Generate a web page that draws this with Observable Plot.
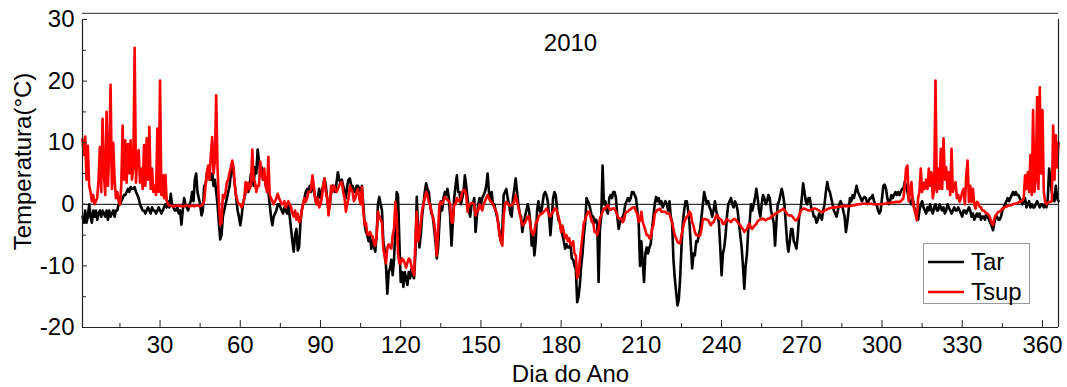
<!DOCTYPE html>
<html><head><meta charset="utf-8">
<script src="https://cdn.jsdelivr.net/npm/d3@7"></script>
<script src="https://cdn.jsdelivr.net/npm/@observablehq/plot@0.6"></script>
<style>
html,body{margin:0;padding:0;background:#fff;}
#chart{width:1067px;height:387px;}
</style></head><body><div id="chart"></div>
<script>
// Sampling: two readings per day, starting at day 1
const firstDay = 1;
const samplesPerDay = 2;

// Tar (air temperature), day 1 .. 366
const tar = [
-2,-3, -1,-3, -2,0, -2,-3, -1,-2, -1,-2.5, -1.5,-1, -2,-1, -1.5,-2, -1,-2.5,
-1,-2, -1.5,-1, -2,-1, -1,0, 0,0.5, 1,1.5, 1.5,2, 2.5,2, 2.8,2.5, 2.5,2.8,
2,1.5, 1,0, -0.5,-1, -1,-1.5, -1,-0.5, -1,-1.5, -0.5,-1, -1,-1.5, -1,-0.5, -1,-1.5,
-1,-0.5, 0,-0.5, 0.5,-0.5, 1.7,0, -0.5,-1, -1,-0.5, -1.5,-1, -3.3,-1, 1,0, -0.5,-1,
0,0.5, 2,0.5, 4,5, 2,1, 0,-1.8, -1,3, 3,5, 6,4, 4,5, 3,4,
2,0, -3,-5.7, -5,-2, -1,0, 1,2, 3,5, 6,5, 3,1, -1,-2, -3.4,-2,
0,1, 2,3, 2,3, 5,4, 3,6, 5,8.9, 7,5, 6,4, 5,3, 3,2,
0,-2, -3.4,-2, -1.5,-1, 0,0, -0.5,-1, -1.5,-0.5, -1,-1.5, 0,-2, -4,-6, -7.7,-5,
-4,-7.5, -7,-3, -1,0, 1,2, 2.5,2, 3,2, 3,2.5, 1,0, 1,2.5, 1,2,
3,4.2, 3,1, -1,0, 2,3, 3,2, 3.5,5.2, 4,3.5, 4,3, 2,1, 3,4,
4.2,3, 3,2, 2,3, 3,2.5, 2,3, 0,-3, -4.5,-5, -6,-5, -7.2,-6, -7,-7.7,
-5,0, 1.2,0, -1,-6, -7.5,-10, -14.5,-11, -10.4,-9, -11.5,-9, -4,2, 1.5,-6, -12.6,-11,
-13.4,-11, -12,-13.1, -11,-12, -10.5,-11.5, -12,-8, 1.2,-4, -7,-5, -2,0, 2,3.4, 2.5,2,
0,-1.5, -2,-4, -6,-8.8, -7,-3, 0.5,-1, 1,2, 1.5,2.5, 1,-2, -6.7,-3, 1,3,
4.7,2, 2,0, 1,2, 4.7,3, 1,-1, -2,0, 0,1, -4.5,-2, 0,1, 0,1,
1.5,2, 3,5, 2,1, 2,0, 0,-1, -2,-3, -5,-6, -4,1.5, 2,2.5, 1,0,
-1.5,-2, 1,2.5, 4.2,2, 0,-1.5, -2,-4.5, -3,-2, -1,0, -1,-3, -6.7,-5, -8.3,-6,
-1,0.5, -1,-1.5, 0,1.5, 2,1.5, 0.5,-2, -5,-2, 1,2, 1.5,-1, -2.5,-3, -4,-5,
-6,-7.2, -6.5,-7, -7,-6.5, -8.8,-9, -10,-10.5, -15.9,-15, -13,-10, -8,-5, -3,1, 0.5,0,
-1,-2, -2,-3, -2.5,-3, -12.6,-4, -2,6.3, 0,0.5, -1,-1.5, 1,1.5, 1,2, 2,1,
-2,-4, -3,-2.5, -2,-1.5, 0,0.5, 1,0.5, 1,2, 2,1.5, 1,-1, -3,-10, -6,-9.4,
-12.6,-8, -7,-8, -7,-6.5, -4,-2, 0,1.2, 0.5,1, 0,0.5, -0.5,0, 0.5,0, -1,0.5,
-2,-3, -9,-12, -14.2,-16.4, -15.5,-12, -7,-3, -1,0.5, 0.5,-1, -3,-6.7, -10.4,-8, -8.3,-6,
-6.1,-5, -4,-2, 0,2, 1,0, 0.5,-0.5, -1,-2, -1,0.5, -1,-2, -3,-7, -11.5,-8,
-7,-5, -2,0, 0.5,1, 0,-0.5, 0.5,0, -1,-3, -5,-7, -10,-13.7, -10,-8, -4,-3,
0,-1, 0,1, 2.5,1, -1,-2, 0,1.5, 1,0, 0.5,1.5, 1,-1, -2,-3, -6.7,-3,
0,0.5, 1.5,2.5, 1.5,0, -3,-6.1, -7.7,-6, -4,-4, -6,-6.5, -7.2,-5, -2,-1, 1,3.4,
2,0.5, 0,1, 1,-0.5, -1,-2, -2,-3, -2.5,-1.5, -2,-2.5, -1,0, 2,3.6, 2.5,2,
1,0, -1,-1.5, -2,-1, 0,0.5, 0,-1, -2,-4.5, -3,-1, 1,0.5, 1.5,1, 2,3,
2,1.5, 1,0.5, 1,1.2, 1,0, 0.5,1, 1,1.5, 0.5,0, 0,-1, -1.5,-1, 1,3,
3.2,2.5, 1,0, 0.5,1.5, 1,1.5, 2,1.5, 2,1.5, 2,2.5, 2.5,3.6, 3,2, 1,0.5,
0,1, -0.5,-1, -2,-2.5, -1,0, 0.5,-0.5, -1,-1.5, -0.5,-1, 0,-1, -1.5,-0.5, 0,-1,
-1,0, -0.5,-1, -0.5,-1.5, -1,0, -0.5,-1, -1.5,-1, -0.5,-1, -1,-0.5, -1,-1.5, -2,-1,
-1,-1.5, -1,-0.5, -1,-2, -1.5,-2.5, -2,-1.5, -2,-1.5, -2.5,-2, -2,-2.5, -1.5,-2, -2.5,-3,
-3.5,-4.2, -3,-2, -2,-2.5, -2.5,-2, -1,-0.5, 0,0.5, 1,0.5, 1,1.5, 2,1.5, 2,1.5,
1.5,1, 0.5,0, 0.5,1, -0.5,0, 0.5,-0.5, 0,-0.5, -0.5,0, 0.5,0, -0.5,0, 0,-0.5,
0,-0.5, 1,5.8, 4,2, 1,0.5, 3,1, 0.5
];

// Tsup (surface temperature), day 1 .. 366
const tsup = [
10.5,8, 11,4, 9.5,3, 2,0.5, 1.5,0, 0.5,1, 4,9.3, 2,13.9, 5,1.5, 15,3,
8,19.4, 2.5,10, 4,1, 2,0.5, 0,3, 12.8,4, 10.4,3.5, 9.8,5, 10.4,4, 6,25.4,
3.5,8, 8.8,3.5, 5.8,2.5, 9.6,3, 10.7,4, 12.6,2.5, 5.8,2, 3,1.5, 12.3,2, 20.1,1.5,
4.7,1, 4.8,0.5, 0,-0.2, -0.2,-0.3, -0.3,-0.3, -0.3,-0.2, -0.2,-0.3, -0.3,-0.3, -0.3,-0.2, -0.2,-0.3,
-0.3,-0.3, -0.2,-0.3, -0.3,-0.2, -0.2,-0.3, -0.3,-0.2, 0,0.5, 3,5, 6.3,4, 8,10.9, 5,7,
17.7,6, 0.4,-3.4, -2.9,1.5, 1,2, 3.6,4, 5.2,6, 7.1,6, 3,1.2, 0.5,0, 0,-0.5,
0,1, 3.6,2, 3.5,2.5, 3,8.9, 4,3.6, 2,3, 3,6.9, 4.7,4, 5.8,3, 2,7.7,
1.5,1, 0.5,0, 0.5,1, 1.7,1, 0.5,0, 0,0.5, -0.5,0, 0.5,0, -0.5,-1.5, -2,-1,
-2.5,-1.5, -2.9,-2.5, -1,0, 1,0.4, 1,2, 2,2.5, 4.7,3, 1,0, 1,-0.5, 0,1,
3,4.2, 2,1, -1.8,0, 3,2, 3,2.5, 2,2.5, 3,3.5, 3.6,2, 1,-1.2, 0,1,
3,2.5, 2,0.5, 1,2, 2.5,1, 0,2.8, -1,-3.4, -3,-4.8, -5,-4.5, -5,-5.2, -6.3,-6.7,
-5,-1.2, -2,-2.5, -3,-7.2, -8.5,-9.6, -7,-6.5, -7,-7.2, -5,-4, 0.4,-2, -8,-9.6, -9.6,-8.8,
-9,-9.5, -10.3,-9.5, -8.8,-9, -10,-11, -11.5,-6, -1.2,-6, -5,-3, -1,0, 1,2, 1.5,0.4,
0,-1.2, -2,-3, -5,-8.3, -4,0, 0.4,0, 0.5,1.2, 1,0.7, 0.5,0, -2.9,-3, 0,0,
1,0.5, 0.5,1, 2,2.3, 2.3,1.5, -1.2,0, 0,0.2, 0.2,0, -1.8,-1, -1,0, -0.5,-1,
0,0.5, 1,1.5, 1,0.5, 0.4,0, -0.5,-1, -1.5,-3.4, -5,-6.1, -6.7,-2, 0,0.4, 0.2,-0.2,
-0.2,-0.2, 0,0.5, 1.5,0.5, -0.5,-1.5, -2.5,-3.4, -3.2,-3, -2.5,-2, -2,-3.5, -4.5,-5, -4.5,-3,
-2.9,-2, -1.8,-1.5, -1.5,-1.2, -1,-0.7, -1,-1.8, -2,-1.5, -1.2,-0.7, -0.7,-1.2, -2,-3, -4.5,-3.5,
-4.5,-5.5, -5,-6, -5.5,-6.5, -6.7,-6, -8,-8.3, -12,-11.4, -9,-7, -5,-3, -2.5,-1.8, -1.2,-1.2,
-2,-2.9, -3,-4.5, -4.5,-5, -4,-2.3, -1.8,-1.2, -0.7,-0.7, -0.3,-0.2, -0.7,-0.9, -0.7,-0.7, -0.7,-1.2,
-1.8,-2.3, -2.3,-2.3, -2.9,-2.6, -1.5,-1.2, -1.2,-0.9, -0.8,-0.6, -0.5,-0.5, -1.2,-1.5, -2.9,-2.6, -1.2,-2.9,
-3.5,-4.2, -5,-5, -5.5,-5.5, -4,-3.4, -1.5,-1.2, -0.9,-0.9, -0.7,-1.2, -1.2,-1.2, -1.2,-1.5, -1.5,-1.5,
-2.3,-2.9, -4,-5, -5.5,-6.1, -6.3,-6.3, -5,-4, -3,-2.4, -2,-1.8, -1.2,-1.5, -2.9,-3.5, -4.5,-5,
-5,-5.2, -5,-4, -2.4,-2.4, -2.4,-2.5, -2.6,-3, -3.4,-3, -2.9,-2.4, -1.8,-1.8, -2.3,-2.4, -2.6,-3.2,
-3.2,-2.7, -2.4,-2.6, -2.7,-2.9, -2.6,-2.4, -2.4,-2.6, -2.9,-3.2, -3.4,-3.8, -4,-4.5, -4.2,-4, -3.4,-3.2,
-3.8,-4, -3.6,-3.4, -3.2,-2.7, -2.6,-2.4, -2.4,-2.3, -2.5,-2.6, -2.4,-2.3, -2.3,-2.1, -1.8,-1.8, -1.5,-1.5,
-1.2,-1.2, -1,-0.9, -0.7,-0.9, -1.2,-1.6, -1.8,-1.8, -1.8,-2, -2.3,-2.6, -2.6,-2.3, -1.8,-1.2, -0.9,-0.7,
-0.7,-0.8, -0.9,-1, -1,-0.9, -0.8,-0.7, -0.7,-0.8, -0.9,-1, -1.2,-1.3, -1.2,-1, -0.9,-0.8, -0.7,-0.6,
-0.6,-0.5, -0.5,-0.5, -0.5,-0.4, -0.4,-0.4, -0.3,-0.3, -0.3,-0.3, -0.3,-0.3, -0.3,-0.2, -0.2,-0.2, -0.1,-0.1,
0,0, 0,0.1, 0.1,0.1, 0.1,0.1, 0.1,0.1, 0.1,0, 0,0, 0,0, 0,0, 0,0.1,
0.1,0.1, 0.2,0.2, 0.2,0.3, 0.3,0.3, 0.4,0.4, 0.4,0.4, 0.5,0.7, 1,3, 5.8,6.3, 0.5,2,
3.6,0.5, -0.7,-1.5, -2.6,1, 2,5.8, 2,3.5, 2.5,4, 2.5,5.8, 3,5.2, 1,2.5, 20.1,2,
5.8,2.5, 9,2.5, 10.7,4, 6,2.5, 5.2,1.5, 9,2, 3,3.6, 1,1.5, 0.4,1, 2,2.5,
0,4.7, 7.1,0.4, 3,0.4, 2.5,0, -0.7,0.4, 0.2,-0.4, -0.5,-1, -1,-1.2, -1.5,-1.5, -1.8,-2.3,
-3,-3.4, -2.3,-1.8, -1.5,-1.2, -1.2,-1, -0.7,-0.7, -0.4,-0.4, -0.2,-0.2, -0.2,-0.1, 0,0.1, 0.1,0.2,
0.3,0.4, 0.5,0.6, 1,4.7, 2.5,5.2, 2,8, 1.5,15.3, 2,4, 17.4,2.5, 19,5, 15.3,2,
0.4,0, 0.2,0.4, 0.4,0.5, 12.8,4, 11.2,6, 10
];

const seriesNames = ["Tar", "Tsup"];
const seriesColors = ["#000000", "#ff0000"];
const xTicks = [30, 60, 90, 120, 150, 180, 210, 240, 270, 300, 330, 360];
const xMinorTicks = [15, 45, 75, 105, 135, 165, 195, 225, 255, 285, 315, 345];
const yTicks = [-20, -10, 0, 10, 20, 30];
const yMinorTicks = [-15, -5, 5, 15, 25];
const xDomain = [1, 366];
const yDomain = [-20, 30];
const titleText = "2010";
const xLabel = "Dia do Ano";
const yLabel = "Temperatura(°C)";

const toRows = (vals, name) => vals.map((v, i) => ({day: firstDay + i / samplesPerDay, value: v, series: name}));
const tarRows = toRows(tar, seriesNames[0]);
const tsupRows = toRows(tsup, seriesNames[1]);

const font = "'Liberation Sans', Arial, Helvetica, sans-serif";
const axisColor = "#222";
const fmt = d => String(d);

const chart = Plot.plot({
  width: 1067,
  height: 387,
  marginLeft: 82,
  marginRight: 9,
  marginTop: 19,
  marginBottom: 60,
  style: {fontFamily: font, background: "#ffffff", color: "#000"},
  x: {domain: xDomain, label: null},
  y: {domain: yDomain, label: null},
  marks: [
    Plot.ruleY([0], {stroke: "#000", strokeWidth: 1}),
    Plot.line(tarRows, {x: "day", y: "value", stroke: seriesColors[0], strokeWidth: 2.6, strokeLinejoin: "round"}),
    Plot.line(tsupRows, {x: "day", y: "value", stroke: seriesColors[1], strokeWidth: 2.6, strokeLinejoin: "round"}),
    // frame lines
    Plot.ruleY([yDomain[0]], {stroke: axisColor, strokeWidth: 1.2}),
    Plot.ruleX(xDomain, {y1: yDomain[0], y2: yDomain[1], stroke: axisColor, strokeWidth: 1.2}),
    Plot.ruleY([yDomain[1] + 1], {stroke: "#555", strokeWidth: 1.2}),
    // axes (inward ticks)
    Plot.axisX(xTicks, {tickSize: -7, tickPadding: 15, tickFormat: fmt, fontSize: 24, stroke: axisColor, fill: "#000", label: null}),
    Plot.axisX(xMinorTicks, {tickSize: -4, tickFormat: () => "", stroke: axisColor, label: null}),
    Plot.axisY(yTicks, {tickSize: -5, tickPadding: 13, tickFormat: fmt, fontSize: 24, stroke: axisColor, fill: "#000", label: null}),
    Plot.axisY(yMinorTicks, {tickSize: -4, tickFormat: () => "", stroke: axisColor, label: null}),
    // titles
    Plot.text([titleText], {frameAnchor: "top", lineAnchor: "middle", dy: 24, fontSize: 24, fill: "#000"}),
    Plot.text([xLabel], {frameAnchor: "bottom", lineAnchor: "middle", dy: 47, fontSize: 24, fill: "#000"}),
    Plot.text([yLabel], {frameAnchor: "left", textAnchor: "middle", dx: -59, dy: -12, rotate: -90, fontSize: 24, fill: "#000"})
  ]
});

document.getElementById("chart").appendChild(chart);

// Legend box inside the plot
const svg = d3.select(chart);
const lg = svg.append("g").attr("font-family", font).attr("font-size", 24).attr("text-anchor", "start");
lg.append("rect").attr("x", 923.5).attr("y", 243.5).attr("width", 106).attr("height", 60)
  .attr("fill", "#fff").attr("stroke", "#999").attr("stroke-width", 1);
seriesNames.forEach((name, i) => {
  const y = 262 + i * 30;
  lg.append("line").attr("x1", 928).attr("x2", 964).attr("y1", y).attr("y2", y)
    .attr("stroke", seriesColors[i]).attr("stroke-width", 2.5);
  lg.append("text").attr("x", 971).attr("y", y).attr("dy", "0.35em").attr("text-anchor", "start").attr("fill", "#000").text(name);
});
</script>
</body></html>
